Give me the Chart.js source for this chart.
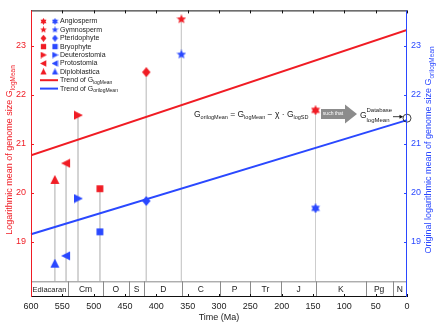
<!DOCTYPE html>
<html>
<head>
<meta charset="utf-8">
<script src="https://cdn.jsdelivr.net/npm/chart.js@4.4.1/dist/chart.umd.min.js"></script>
<style>
html, body { margin: 0; padding: 0; background: #fff; }
</style>
</head>
<body>
<canvas id="genomeChart" width="436" height="328"></canvas>
<script>
// data
const groups = ['Angiosperm', 'Gymnosperm', 'Pteridophyte', 'Bryophyte', 'Deuterostomia', 'Protostomia', 'Diploblastica'];
const shapes = ['star6', 'star5', 'diamond', 'square', 'triRight', 'triLeft', 'triUp'];
const ages = [146, 360, 416, 490, 525, 544, 562];
const logMean = [21.68, 23.54, 22.46, 20.08, 21.58, 20.60, 20.26];
const oriLogMean = [19.68, 22.82, 19.83, 19.20, 19.88, 18.71, 18.55];
const trendAges = [600, 0];
const trendLogMean = [20.76, 23.32];
const trendOriLogMean = [19.15, 21.48];
const databaseMean = 21.52;
const periodNames = ['Ediacaran', 'Cm', 'O', 'S', 'D', 'C', 'P', 'Tr', 'J', 'K', 'Pg', 'N'];
const periodBounds = [600, 541, 485, 444, 419, 359, 299, 251, 201, 145, 66, 23, 0];
const yTicks = [19, 20, 21, 22, 23];
const yMin = 17.87, yMax = 23.72, bandTop = 18.19;

const RED = '#f01c24';
const BLUE = '#2a48ff';
const FONT = 'Liberation Sans, Arial, sans-serif';

function marker(shape, color, s) {
	const c = document.createElement('canvas');
	c.width = s; c.height = s;
	const g = c.getContext('2d');
	const h = s / 2;
	g.fillStyle = color;
	g.beginPath();
	if(shape === 'star5' || shape === 'star6') {
		const n = shape === 'star5' ? 5 : 6;
		const ri = shape === 'star5' ? h * 0.45 : h * 0.58;
		for(let i = 0; i < 2 * n; i++) {
			const a = -Math.PI / 2 + i * Math.PI / n;
			const r = i % 2 ? ri : h;
			g.lineTo(h + r * Math.cos(a), h + r * Math.sin(a));
		}
	} else if(shape === 'diamond') {
		g.moveTo(h, 0); g.lineTo(s * 0.92, h); g.lineTo(h, s); g.lineTo(s * 0.08, h);
	} else if(shape === 'square') {
		g.rect(s * 0.12, s * 0.12, s * 0.76, s * 0.76);
	} else if(shape === 'triRight') {
		g.moveTo(s * 0.1, s * 0.05); g.lineTo(s, h); g.lineTo(s * 0.1, s * 0.95);
	} else if(shape === 'triLeft') {
		g.moveTo(s * 0.9, s * 0.05); g.lineTo(0, h); g.lineTo(s * 0.9, s * 0.95);
	} else {
		g.moveTo(h, 0); g.lineTo(s * 0.95, s * 0.9); g.lineTo(s * 0.05, s * 0.9);
	}
	g.closePath();
	g.fill();
	return c;
}

// rich text: parts of {t, size, dy}
function drawRich(ctx, x, y, parts, color) {
	let w = 0;
	parts.forEach(p => {
		ctx.font = p.size + 'px ' + FONT;
		if(color) ctx.fillStyle = color;
		ctx.fillText(p.t, x + w, y + (p.dy || 0));
		w += ctx.measureText(p.t).width;
	});
	return w;
}
function richWidth(ctx, parts) {
	let w = 0;
	parts.forEach(p => { ctx.font = p.size + 'px ' + FONT; w += ctx.measureText(p.t).width; });
	return w;
}

const datasets = [];
// grey drop lines
ages.forEach((a, i) => {
	datasets.push({
		data: [{x: a, y: logMean[i]}, {x: a, y: bandTop}],
		yAxisID: 'yL', showLine: true, pointRadius: 0,
		borderColor: '#cdcdcd', borderWidth: 1, order: 5
	});
});
// trend lines
datasets.push({
	data: trendAges.map((a, i) => ({x: a, y: trendLogMean[i]})),
	yAxisID: 'yL', showLine: true, pointRadius: 0, borderColor: RED, borderWidth: 2, order: 3
});
datasets.push({
	data: trendAges.map((a, i) => ({x: a, y: trendOriLogMean[i]})),
	yAxisID: 'yR', showLine: true, pointRadius: 0, borderColor: BLUE, borderWidth: 2, order: 3, clip: false
});
// markers
ages.forEach((a, i) => {
	const sz = shapes[i] === 'square' ? 9 : 10;
	datasets.push({
		data: [{x: a, y: logMean[i]}], yAxisID: 'yL',
		pointStyle: marker(shapes[i], RED, sz), order: 1, clip: false
	});
	datasets.push({
		data: [{x: a, y: oriLogMean[i]}], yAxisID: 'yR',
		pointStyle: marker(shapes[i], BLUE, sz), order: 1, clip: false
	});
});
// database mean circle
datasets.push({
	data: [{x: 0, y: databaseMean}], yAxisID: 'yR', pointStyle: 'circle',
	pointRadius: 4, backgroundColor: 'rgba(0,0,0,0)', borderColor: '#111', borderWidth: 0.8,
	order: 0, clip: false
});

const decor = {
	id: 'decor',
	afterDraw(chart) {
		const ctx = chart.ctx;
		const a = chart.chartArea;
		const xs = chart.scales.x, yl = chart.scales.yL, yr = chart.scales.yR;
		const bt = yl.getPixelForValue(bandTop);
		ctx.save();
		// period band
		ctx.fillStyle = '#fff';
		ctx.fillRect(a.left, bt, a.right - a.left, a.bottom - bt);
		ctx.strokeStyle = '#8a8a8a';
		ctx.lineWidth = 1;
		ctx.beginPath();
		ctx.moveTo(a.left, bt + 0.5); ctx.lineTo(a.right, bt + 0.5);
		periodBounds.slice(1, -1).forEach(b => {
			const px = Math.round(xs.getPixelForValue(b)) + 0.5;
			ctx.moveTo(px, bt); ctx.lineTo(px, a.bottom);
		});
		ctx.stroke();
		ctx.fillStyle = '#222';
		ctx.textAlign = 'center';
		ctx.textBaseline = 'middle';
		periodNames.forEach((n, i) => {
			ctx.font = (n === 'Ediacaran' ? 7.5 : 8.5) + 'px ' + FONT;
			const cx = (xs.getPixelForValue(periodBounds[i]) + xs.getPixelForValue(periodBounds[i + 1])) / 2;
			ctx.fillText(n, cx, (bt + a.bottom) / 2 + 0.5);
		});
		// frame
		ctx.lineWidth = 1;
		ctx.strokeStyle = '#111';
		ctx.beginPath();
		ctx.moveTo(a.left, a.top + 0.5); ctx.lineTo(a.right, a.top + 0.5);
		ctx.moveTo(a.left, a.bottom - 0.5); ctx.lineTo(a.right, a.bottom - 0.5);
		xs.ticks.forEach(t => {
			const px = Math.round(xs.getPixelForValue(t.value)) + 0.5;
			ctx.moveTo(px, a.top); ctx.lineTo(px, a.top + 3);
			ctx.moveTo(px, a.bottom); ctx.lineTo(px, a.bottom - 3);
		});
		ctx.stroke();
		ctx.strokeStyle = RED;
		ctx.beginPath();
		ctx.moveTo(a.left + 0.5, a.top); ctx.lineTo(a.left + 0.5, a.bottom);
		yTicks.forEach(v => {
			const py = Math.round(yl.getPixelForValue(v)) + 0.5;
			ctx.moveTo(a.left, py); ctx.lineTo(a.left + 3, py);
		});
		ctx.stroke();
		ctx.strokeStyle = BLUE;
		ctx.beginPath();
		ctx.moveTo(a.right - 0.5, a.top); ctx.lineTo(a.right - 0.5, a.bottom);
		yTicks.forEach(v => {
			const py = Math.round(yr.getPixelForValue(v)) + 0.5;
			ctx.moveTo(a.right, py); ctx.lineTo(a.right - 3, py);
		});
		ctx.stroke();

		// legend
		ctx.textAlign = 'left';
		ctx.textBaseline = 'middle';
		const rowY = i => a.top + 11 + i * 8.4;
		groups.forEach((g, i) => {
			const y = rowY(i);
			ctx.drawImage(marker(shapes[i], RED, 7), 40, y - 3.5);
			ctx.drawImage(marker(shapes[i], BLUE, 7), 51.5, y - 3.5);
			ctx.fillStyle = '#222';
			ctx.font = '7px ' + FONT;
			ctx.fillText(g, 60, y);
		});
		[[RED, 'logMean'], [BLUE, 'orilogMean']].forEach((e, j) => {
			const y = rowY(7 + j);
			ctx.strokeStyle = e[0];
			ctx.lineWidth = 2;
			ctx.beginPath(); ctx.moveTo(40, y); ctx.lineTo(58, y); ctx.stroke();
			ctx.fillStyle = '#222';
			drawRich(ctx, 60, y, [{t: 'Trend of G', size: 7}, {t: e[1], size: 5, dy: 2.5}]);
		});

		// annotation
		ctx.textBaseline = 'alphabetic';
		ctx.fillStyle = '#222';
		drawRich(ctx, 194, 117, [
			{t: 'G', size: 8.5}, {t: 'orilogMean', size: 5.5, dy: 2},
			{t: ' = G', size: 8.5}, {t: 'logMean', size: 5.5, dy: 2},
			{t: ' \u2212 \u03c7 \u00b7 G', size: 8.5}, {t: 'logSD', size: 5.5, dy: 2}
		]);
		ctx.fillStyle = '#8c8c8c';
		ctx.beginPath();
		ctx.moveTo(321, 109); ctx.lineTo(345, 109); ctx.lineTo(345, 104.5); ctx.lineTo(357, 114);
		ctx.lineTo(345, 123.5); ctx.lineTo(345, 119); ctx.lineTo(321, 119); ctx.closePath();
		ctx.fill();
		ctx.fillStyle = '#fff';
		ctx.font = '5px ' + FONT;
		ctx.textAlign = 'center';
		ctx.textBaseline = 'middle';
		ctx.fillText('such that', 333, 114);
		ctx.textAlign = 'left';
		ctx.textBaseline = 'alphabetic';
		ctx.fillStyle = '#222';
		ctx.font = '8.5px ' + FONT;
		ctx.fillText('G', 360, 118);
		ctx.font = '6px ' + FONT;
		ctx.fillText('Database', 366.5, 111.5);
		ctx.fillText('logMean', 366.5, 121.5);
		const cy = yr.getPixelForValue(databaseMean);
		const cx = xs.getPixelForValue(0);
		ctx.strokeStyle = '#111';
		ctx.fillStyle = '#111';
		ctx.lineWidth = 0.8;
		ctx.beginPath(); ctx.moveTo(393, cy - 1.5); ctx.lineTo(cx - 4.5, cy - 1.5); ctx.stroke();
		ctx.beginPath();
		ctx.moveTo(cx - 4, cy - 1.5); ctx.lineTo(cx - 7.5, cy - 3.5); ctx.lineTo(cx - 7.5, cy + 0.5); ctx.closePath();
		ctx.fill();

		// axis titles
		const lParts = [{t: 'Logarithmic mean of genome size G', size: 9}, {t: 'logMean', size: 6.5, dy: 2.5}];
		ctx.save();
		ctx.translate(12, 150);
		ctx.rotate(-Math.PI / 2);
		drawRich(ctx, -richWidth(ctx, lParts) / 2, 0, lParts, RED);
		ctx.restore();
		const rParts = [{t: 'Original logarithmic mean of genome size G', size: 9}, {t: 'orilogMean', size: 6.5, dy: 2.5}];
		ctx.save();
		ctx.translate(431, 150);
		ctx.rotate(-Math.PI / 2);
		drawRich(ctx, -richWidth(ctx, rParts) / 2, 0, rParts, BLUE);
		ctx.restore();
		ctx.fillStyle = '#222';
		ctx.font = '9px ' + FONT;
		ctx.textAlign = 'center';
		ctx.fillText('Time (Ma)', (a.left + a.right) / 2, 320);
		ctx.restore();
	}
};

new Chart(document.getElementById('genomeChart'), {
	type: 'scatter',
	data: {datasets: datasets},
	options: {
		responsive: false,
		animation: false,
		devicePixelRatio: 1,
		layout: {padding: {top: 6, left: 0, right: 0, bottom: 0}},
		elements: {point: {radius: 5}},
		plugins: {legend: {display: false}, tooltip: {enabled: false}},
		scales: {
			x: {
				type: 'linear', reverse: true, min: 0, max: 600, position: 'bottom',
				afterFit: s => { s.height = 31; },
				grid: {display: false, drawTicks: false}, border: {display: false},
				ticks: {stepSize: 50, padding: 4, maxRotation: 0, autoSkip: false, color: '#222', font: {size: 9, family: FONT}}
			},
			yL: {
				type: 'linear', position: 'left', min: yMin, max: yMax,
				afterFit: s => { s.width = 31; },
				afterBuildTicks: s => { s.ticks = yTicks.map(v => ({value: v})); },
				grid: {display: false, drawTicks: false}, border: {display: false},
				ticks: {padding: 5, color: RED, font: {size: 9, family: FONT}}
			},
			yR: {
				type: 'linear', position: 'right', min: yMin, max: yMax,
				afterFit: s => { s.width = 29; },
				afterBuildTicks: s => { s.ticks = yTicks.map(v => ({value: v})); },
				grid: {display: false, drawTicks: false}, border: {display: false},
				ticks: {padding: 4, color: BLUE, font: {size: 9, family: FONT}}
			}
		}
	},
	plugins: [decor]
});
</script>
</body>
</html>
